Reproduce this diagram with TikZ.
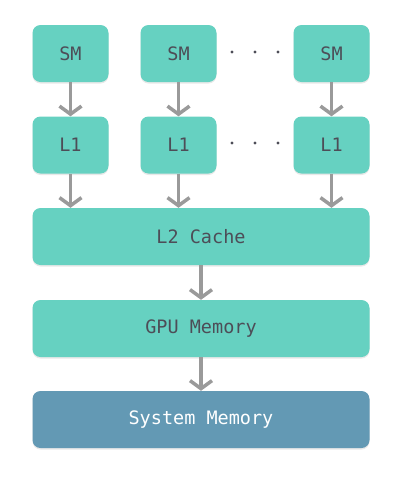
\documentclass[tikz,border=0pt]{standalone}
\usepackage{xcolor}
\usepackage{fontspec}
\setmonofont{DejaVu Sans Mono}
\usetikzlibrary{arrows.meta,positioning,shadows}
\definecolor{CacheTeal}{HTML}{66D1C1}
\definecolor{HostBlue}{HTML}{6399B4}
\definecolor{LabelGray}{HTML}{4D4D57}
\definecolor{ArrowGray}{HTML}{9A9A9A}

\begin{document}
\begin{tikzpicture}[x=1pt, y=-1pt,
    unit/.style={fill=CacheTeal, rounded corners=8pt, minimum height=57pt,
                 inner sep=0pt, text=LabelGray,
                 font=\ttfamily\fontsize{18.5}{22}\selectfont,
                 drop shadow={opacity=0.18, shadow xshift=0pt, shadow yshift=-1.5pt}},
    core/.style={unit, minimum width=76pt},
    level/.style={unit, minimum width=337pt},
    flow/.style={draw=ArrowGray, line width=3.5pt,
                 -{Straight Barb[length=8pt, width=22pt]}}]
  \useasboundingbox (0,0) rectangle (400,480);

  % streaming multiprocessors and their L1
  \node[core] (sm1) at (70.5,53.5) {SM};
  \node[core] (sm2) at (178.5,53.5) {SM};
  \node[core] (sm3) at (331.5,53.5) {SM};
  \node[core] (l1a) at (70.5,145) {L1};
  \node[core] (l1b) at (178.5,145) {L1};
  \node[core] (l1c) at (331.5,145) {L1};

  % shared levels
  \node[level] (l2)  at (201,236.5) {L2 Cache};
  \node[level] (gpu) at (201,328.5) {GPU Memory};
  \node[level, fill=HostBlue, text=white] (sys) at (201,419.5) {System Memory};

  % dots between columns
  \foreach \y in {52,143}
    \foreach \x in {232,255,278}
      \fill[LabelGray] (\x,\y) circle (1.7pt);

  \draw[flow] (sm1) -- (l1a);
  \draw[flow] (sm2) -- (l1b);
  \draw[flow] (sm3) -- (l1c);
  \draw[flow] (l1a) -- (l1a |- l2.north);
  \draw[flow] (l1b) -- (l1b |- l2.north);
  \draw[flow] (l1c) -- (l1c |- l2.north);
  \draw[flow] (l2) -- (gpu);
  \draw[flow] (gpu) -- (sys);
\end{tikzpicture}
\end{document}
